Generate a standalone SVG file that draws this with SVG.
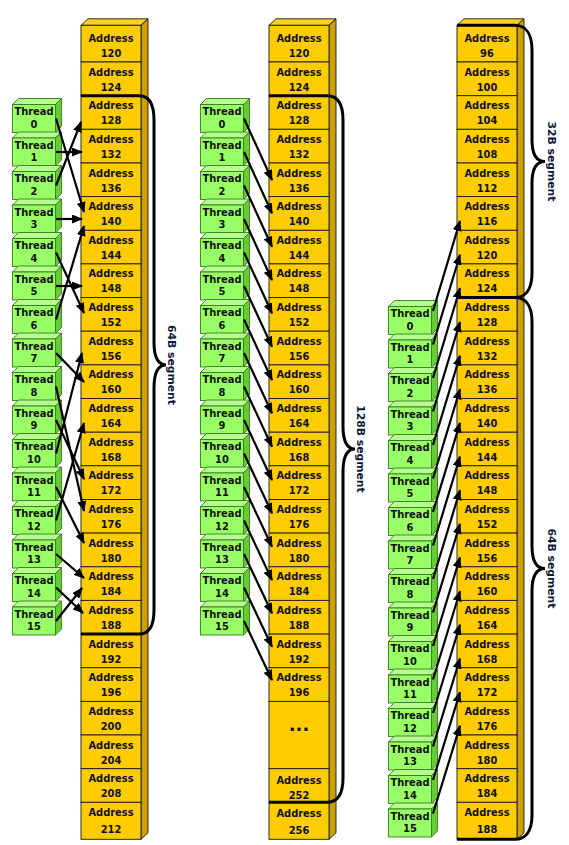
<svg xmlns="http://www.w3.org/2000/svg" xmlns:xlink="http://www.w3.org/1999/xlink" width="569" height="845" viewBox="0 0 569 845">
<style>
.cf{fill:#FFCC00;stroke:#1a1a1a;stroke-width:0.9}
.cs{fill:#CCA000;stroke:#1a1a1a;stroke-width:0.9}
.ct{fill:#FFD21F;stroke:#1a1a1a;stroke-width:0.9}
.tf{fill:#99FF66;stroke:#3A7A1E;stroke-width:0.9}
.ts{fill:#66CC33;stroke:#3A7A1E;stroke-width:0.9}
.tt{fill:#B5FF8F;stroke:#3A7A1E;stroke-width:0.9}
.a{font-family:'DejaVu Sans Condensed','DejaVu Sans','Liberation Sans',sans-serif;font-stretch:condensed;font-weight:bold;font-size:11px;text-anchor:middle;fill:#111}
.dots{font-family:'DejaVu Sans','Liberation Sans',sans-serif;font-weight:bold;font-size:18px;text-anchor:middle;fill:#111}
.seg{fill:none;stroke:#000;stroke-width:3}
.ar{fill:none;stroke:#000;stroke-width:2.2;marker-end:url(#ah)}
.lbl{font-family:'DejaVu Sans','Liberation Sans',sans-serif;font-weight:bold;font-size:10.8px;text-anchor:middle;fill:#101838}
</style>
<defs>
<marker id="ah" markerUnits="userSpaceOnUse" markerWidth="11" markerHeight="9" refX="10" refY="4.5" orient="auto"><path d="M0,0 L11,4.5 L0,9 z" fill="#000"/></marker>
<g id="tbox"><polygon class="tt" points="0,0 6,-6 49,-6 43,0"/><polygon class="ts" points="43,0 49,-6 49,22 43,28"/><rect class="tf" x="0" y="0" width="43" height="28"/></g>
</defs>
<rect width="569" height="845" fill="#fff"/>

<g id="column-faces">
<polygon class="ct" points="81,25.3 88,18.8 148,18.8 141,25.3"/><polygon class="cs" points="141,25.3 148,18.8 148,832.8 141,839.3"/>
<polygon class="ct" points="269,25.3 276,18.8 336,18.8 329,25.3"/><polygon class="cs" points="329,25.3 336,18.8 336,832.8 329,839.3"/>
<polygon class="ct" points="457,25.3 464,18.8 524,18.8 517,25.3"/><polygon class="cs" points="517,25.3 524,18.8 524,832.8 517,839.3"/>
</g>

<g id="left-column">
<g id="L120"><rect class="cf" x="81" y="25.3" width="60" height="36.7"/><text class="a" x="111" y="41.7">Address<tspan x="111" dy="15">120</tspan></text></g>
<g id="L124"><rect class="cf" x="81" y="62" width="60" height="33.7"/><text class="a" x="111" y="75.5">Address<tspan x="111" dy="15">124</tspan></text></g>
<g id="L128"><rect class="cf" x="81" y="95.7" width="60" height="33.6"/><text class="a" x="111" y="109.2">Address<tspan x="111" dy="15">128</tspan></text></g>
<g id="L132"><rect class="cf" x="81" y="129.3" width="60" height="33.7"/><text class="a" x="111" y="142.8">Address<tspan x="111" dy="15">132</tspan></text></g>
<g id="L136"><rect class="cf" x="81" y="163" width="60" height="33.6"/><text class="a" x="111" y="176.5">Address<tspan x="111" dy="15">136</tspan></text></g>
<g id="L140"><rect class="cf" x="81" y="196.6" width="60" height="33.7"/><text class="a" x="111" y="210.1">Address<tspan x="111" dy="15">140</tspan></text></g>
<g id="L144"><rect class="cf" x="81" y="230.3" width="60" height="33.6"/><text class="a" x="111" y="243.8">Address<tspan x="111" dy="15">144</tspan></text></g>
<g id="L148"><rect class="cf" x="81" y="263.9" width="60" height="33.7"/><text class="a" x="111" y="277.4">Address<tspan x="111" dy="15">148</tspan></text></g>
<g id="L152"><rect class="cf" x="81" y="297.6" width="60" height="33.6"/><text class="a" x="111" y="311.1">Address<tspan x="111" dy="15">152</tspan></text></g>
<g id="L156"><rect class="cf" x="81" y="331.2" width="60" height="33.7"/><text class="a" x="111" y="344.7">Address<tspan x="111" dy="15">156</tspan></text></g>
<g id="L160"><rect class="cf" x="81" y="364.9" width="60" height="33.6"/><text class="a" x="111" y="378.4">Address<tspan x="111" dy="15">160</tspan></text></g>
<g id="L164"><rect class="cf" x="81" y="398.5" width="60" height="33.7"/><text class="a" x="111" y="412">Address<tspan x="111" dy="15">164</tspan></text></g>
<g id="L168"><rect class="cf" x="81" y="432.2" width="60" height="33.6"/><text class="a" x="111" y="445.7">Address<tspan x="111" dy="15">168</tspan></text></g>
<g id="L172"><rect class="cf" x="81" y="465.8" width="60" height="33.7"/><text class="a" x="111" y="479.3">Address<tspan x="111" dy="15">172</tspan></text></g>
<g id="L176"><rect class="cf" x="81" y="499.5" width="60" height="33.6"/><text class="a" x="111" y="513">Address<tspan x="111" dy="15">176</tspan></text></g>
<g id="L180"><rect class="cf" x="81" y="533.1" width="60" height="33.7"/><text class="a" x="111" y="546.6">Address<tspan x="111" dy="15">180</tspan></text></g>
<g id="L184"><rect class="cf" x="81" y="566.8" width="60" height="33.6"/><text class="a" x="111" y="580.3">Address<tspan x="111" dy="15">184</tspan></text></g>
<g id="L188"><rect class="cf" x="81" y="600.4" width="60" height="33.7"/><text class="a" x="111" y="613.9">Address<tspan x="111" dy="15">188</tspan></text></g>
<g id="L192"><rect class="cf" x="81" y="634.1" width="60" height="33.6"/><text class="a" x="111" y="647.6">Address<tspan x="111" dy="15">192</tspan></text></g>
<g id="L196"><rect class="cf" x="81" y="667.7" width="60" height="33.7"/><text class="a" x="111" y="681.2">Address<tspan x="111" dy="15">196</tspan></text></g>
<g id="L200"><rect class="cf" x="81" y="701.4" width="60" height="33.6"/><text class="a" x="111" y="714.9">Address<tspan x="111" dy="15">200</tspan></text></g>
<g id="L204"><rect class="cf" x="81" y="735" width="60" height="33.7"/><text class="a" x="111" y="748.5">Address<tspan x="111" dy="15">204</tspan></text></g>
<g id="L208"><rect class="cf" x="81" y="768.7" width="60" height="33.6"/><text class="a" x="111" y="782.2">Address<tspan x="111" dy="15">208</tspan></text></g>
<g id="L212"><rect class="cf" x="81" y="802.3" width="60" height="37"/><text class="a" x="111" y="815.7">Address<tspan x="111" dy="17.6">212</tspan></text></g>
</g>

<g id="middle-column">
<g id="M120"><rect class="cf" x="269" y="25.3" width="60" height="36.7"/><text class="a" x="299" y="41.7">Address<tspan x="299" dy="15">120</tspan></text></g>
<g id="M124"><rect class="cf" x="269" y="62" width="60" height="33.7"/><text class="a" x="299" y="75.5">Address<tspan x="299" dy="15">124</tspan></text></g>
<g id="M128"><rect class="cf" x="269" y="95.7" width="60" height="33.6"/><text class="a" x="299" y="109.2">Address<tspan x="299" dy="15">128</tspan></text></g>
<g id="M132"><rect class="cf" x="269" y="129.3" width="60" height="33.7"/><text class="a" x="299" y="142.8">Address<tspan x="299" dy="15">132</tspan></text></g>
<g id="M136"><rect class="cf" x="269" y="163" width="60" height="33.6"/><text class="a" x="299" y="176.5">Address<tspan x="299" dy="15">136</tspan></text></g>
<g id="M140"><rect class="cf" x="269" y="196.6" width="60" height="33.7"/><text class="a" x="299" y="210.1">Address<tspan x="299" dy="15">140</tspan></text></g>
<g id="M144"><rect class="cf" x="269" y="230.3" width="60" height="33.6"/><text class="a" x="299" y="243.8">Address<tspan x="299" dy="15">144</tspan></text></g>
<g id="M148"><rect class="cf" x="269" y="263.9" width="60" height="33.7"/><text class="a" x="299" y="277.4">Address<tspan x="299" dy="15">148</tspan></text></g>
<g id="M152"><rect class="cf" x="269" y="297.6" width="60" height="33.6"/><text class="a" x="299" y="311.1">Address<tspan x="299" dy="15">152</tspan></text></g>
<g id="M156"><rect class="cf" x="269" y="331.2" width="60" height="33.7"/><text class="a" x="299" y="344.7">Address<tspan x="299" dy="15">156</tspan></text></g>
<g id="M160"><rect class="cf" x="269" y="364.9" width="60" height="33.6"/><text class="a" x="299" y="378.4">Address<tspan x="299" dy="15">160</tspan></text></g>
<g id="M164"><rect class="cf" x="269" y="398.5" width="60" height="33.7"/><text class="a" x="299" y="412">Address<tspan x="299" dy="15">164</tspan></text></g>
<g id="M168"><rect class="cf" x="269" y="432.2" width="60" height="33.6"/><text class="a" x="299" y="445.7">Address<tspan x="299" dy="15">168</tspan></text></g>
<g id="M172"><rect class="cf" x="269" y="465.8" width="60" height="33.7"/><text class="a" x="299" y="479.3">Address<tspan x="299" dy="15">172</tspan></text></g>
<g id="M176"><rect class="cf" x="269" y="499.5" width="60" height="33.6"/><text class="a" x="299" y="513">Address<tspan x="299" dy="15">176</tspan></text></g>
<g id="M180"><rect class="cf" x="269" y="533.1" width="60" height="33.7"/><text class="a" x="299" y="546.6">Address<tspan x="299" dy="15">180</tspan></text></g>
<g id="M184"><rect class="cf" x="269" y="566.8" width="60" height="33.6"/><text class="a" x="299" y="580.3">Address<tspan x="299" dy="15">184</tspan></text></g>
<g id="M188"><rect class="cf" x="269" y="600.4" width="60" height="33.7"/><text class="a" x="299" y="613.9">Address<tspan x="299" dy="15">188</tspan></text></g>
<g id="M192"><rect class="cf" x="269" y="634.1" width="60" height="33.6"/><text class="a" x="299" y="647.6">Address<tspan x="299" dy="15">192</tspan></text></g>
<g id="M196"><rect class="cf" x="269" y="667.7" width="60" height="33.7"/><text class="a" x="299" y="681.2">Address<tspan x="299" dy="15">196</tspan></text></g>
<g id="Mdots"><rect class="cf" x="269" y="701.4" width="60" height="67.3"/><text class="dots" x="299" y="730.5">...</text></g>
<g id="M252"><rect class="cf" x="269" y="768.7" width="60" height="33.6"/><text class="a" x="299" y="783.5">Address<tspan x="299" dy="15.5">252</tspan></text></g>
<g id="M256"><rect class="cf" x="269" y="802.3" width="60" height="37"/><text class="a" x="299" y="816.5">Address<tspan x="299" dy="17.5">256</tspan></text></g>
</g>

<g id="right-column">
<g id="R96"><rect class="cf" x="457" y="25.3" width="60" height="36.7"/><text class="a" x="487" y="41.7">Address<tspan x="487" dy="15">96</tspan></text></g>
<g id="R100"><rect class="cf" x="457" y="62" width="60" height="33.7"/><text class="a" x="487" y="75.5">Address<tspan x="487" dy="15">100</tspan></text></g>
<g id="R104"><rect class="cf" x="457" y="95.7" width="60" height="33.6"/><text class="a" x="487" y="109.2">Address<tspan x="487" dy="15">104</tspan></text></g>
<g id="R108"><rect class="cf" x="457" y="129.3" width="60" height="33.7"/><text class="a" x="487" y="142.8">Address<tspan x="487" dy="15">108</tspan></text></g>
<g id="R112"><rect class="cf" x="457" y="163" width="60" height="33.6"/><text class="a" x="487" y="176.5">Address<tspan x="487" dy="15">112</tspan></text></g>
<g id="R116"><rect class="cf" x="457" y="196.6" width="60" height="33.7"/><text class="a" x="487" y="210.1">Address<tspan x="487" dy="15">116</tspan></text></g>
<g id="R120"><rect class="cf" x="457" y="230.3" width="60" height="33.6"/><text class="a" x="487" y="243.8">Address<tspan x="487" dy="15">120</tspan></text></g>
<g id="R124"><rect class="cf" x="457" y="263.9" width="60" height="33.7"/><text class="a" x="487" y="277.4">Address<tspan x="487" dy="15">124</tspan></text></g>
<g id="R128"><rect class="cf" x="457" y="297.6" width="60" height="33.6"/><text class="a" x="487" y="311.1">Address<tspan x="487" dy="15">128</tspan></text></g>
<g id="R132"><rect class="cf" x="457" y="331.2" width="60" height="33.7"/><text class="a" x="487" y="344.7">Address<tspan x="487" dy="15">132</tspan></text></g>
<g id="R136"><rect class="cf" x="457" y="364.9" width="60" height="33.6"/><text class="a" x="487" y="378.4">Address<tspan x="487" dy="15">136</tspan></text></g>
<g id="R140"><rect class="cf" x="457" y="398.5" width="60" height="33.7"/><text class="a" x="487" y="412">Address<tspan x="487" dy="15">140</tspan></text></g>
<g id="R144"><rect class="cf" x="457" y="432.2" width="60" height="33.6"/><text class="a" x="487" y="445.7">Address<tspan x="487" dy="15">144</tspan></text></g>
<g id="R148"><rect class="cf" x="457" y="465.8" width="60" height="33.7"/><text class="a" x="487" y="479.3">Address<tspan x="487" dy="15">148</tspan></text></g>
<g id="R152"><rect class="cf" x="457" y="499.5" width="60" height="33.6"/><text class="a" x="487" y="513">Address<tspan x="487" dy="15">152</tspan></text></g>
<g id="R156"><rect class="cf" x="457" y="533.1" width="60" height="33.7"/><text class="a" x="487" y="546.6">Address<tspan x="487" dy="15">156</tspan></text></g>
<g id="R160"><rect class="cf" x="457" y="566.8" width="60" height="33.6"/><text class="a" x="487" y="580.3">Address<tspan x="487" dy="15">160</tspan></text></g>
<g id="R164"><rect class="cf" x="457" y="600.4" width="60" height="33.7"/><text class="a" x="487" y="613.9">Address<tspan x="487" dy="15">164</tspan></text></g>
<g id="R168"><rect class="cf" x="457" y="634.1" width="60" height="33.6"/><text class="a" x="487" y="647.6">Address<tspan x="487" dy="15">168</tspan></text></g>
<g id="R172"><rect class="cf" x="457" y="667.7" width="60" height="33.7"/><text class="a" x="487" y="681.2">Address<tspan x="487" dy="15">172</tspan></text></g>
<g id="R176"><rect class="cf" x="457" y="701.4" width="60" height="33.6"/><text class="a" x="487" y="714.9">Address<tspan x="487" dy="15">176</tspan></text></g>
<g id="R180"><rect class="cf" x="457" y="735" width="60" height="33.7"/><text class="a" x="487" y="748.5">Address<tspan x="487" dy="15">180</tspan></text></g>
<g id="R184"><rect class="cf" x="457" y="768.7" width="60" height="33.6"/><text class="a" x="487" y="782.2">Address<tspan x="487" dy="15">184</tspan></text></g>
<g id="R188"><rect class="cf" x="457" y="802.3" width="60" height="37"/><text class="a" x="487" y="815.7">Address<tspan x="487" dy="17.6">188</tspan></text></g>
</g>

<g id="left-threads">
<g id="LT0" transform="translate(12.5,104.5)"><use xlink:href="#tbox" href="#tbox"/><text class="a" x="21.5" y="10.5">Thread<tspan x="21.5" dy="12.5">0</tspan></text></g>
<g id="LT1" transform="translate(12.5,138)"><use xlink:href="#tbox" href="#tbox"/><text class="a" x="21.5" y="10.5">Thread<tspan x="21.5" dy="12.5">1</tspan></text></g>
<g id="LT2" transform="translate(12.5,171.5)"><use xlink:href="#tbox" href="#tbox"/><text class="a" x="21.5" y="10.5">Thread<tspan x="21.5" dy="12.5">2</tspan></text></g>
<g id="LT3" transform="translate(12.5,205)"><use xlink:href="#tbox" href="#tbox"/><text class="a" x="21.5" y="10.5">Thread<tspan x="21.5" dy="12.5">3</tspan></text></g>
<g id="LT4" transform="translate(12.5,238.5)"><use xlink:href="#tbox" href="#tbox"/><text class="a" x="21.5" y="10.5">Thread<tspan x="21.5" dy="12.5">4</tspan></text></g>
<g id="LT5" transform="translate(12.5,272)"><use xlink:href="#tbox" href="#tbox"/><text class="a" x="21.5" y="10.5">Thread<tspan x="21.5" dy="12.5">5</tspan></text></g>
<g id="LT6" transform="translate(12.5,305.5)"><use xlink:href="#tbox" href="#tbox"/><text class="a" x="21.5" y="10.5">Thread<tspan x="21.5" dy="12.5">6</tspan></text></g>
<g id="LT7" transform="translate(12.5,339)"><use xlink:href="#tbox" href="#tbox"/><text class="a" x="21.5" y="10.5">Thread<tspan x="21.5" dy="12.5">7</tspan></text></g>
<g id="LT8" transform="translate(12.5,372.5)"><use xlink:href="#tbox" href="#tbox"/><text class="a" x="21.5" y="10.5">Thread<tspan x="21.5" dy="12.5">8</tspan></text></g>
<g id="LT9" transform="translate(12.5,406)"><use xlink:href="#tbox" href="#tbox"/><text class="a" x="21.5" y="10.5">Thread<tspan x="21.5" dy="12.5">9</tspan></text></g>
<g id="LT10" transform="translate(12.5,439.5)"><use xlink:href="#tbox" href="#tbox"/><text class="a" x="21.5" y="10.5">Thread<tspan x="21.5" dy="12.5">10</tspan></text></g>
<g id="LT11" transform="translate(12.5,473)"><use xlink:href="#tbox" href="#tbox"/><text class="a" x="21.5" y="10.5">Thread<tspan x="21.5" dy="12.5">11</tspan></text></g>
<g id="LT12" transform="translate(12.5,506.5)"><use xlink:href="#tbox" href="#tbox"/><text class="a" x="21.5" y="10.5">Thread<tspan x="21.5" dy="12.5">12</tspan></text></g>
<g id="LT13" transform="translate(12.5,540)"><use xlink:href="#tbox" href="#tbox"/><text class="a" x="21.5" y="10.5">Thread<tspan x="21.5" dy="12.5">13</tspan></text></g>
<g id="LT14" transform="translate(12.5,573.5)"><use xlink:href="#tbox" href="#tbox"/><text class="a" x="21.5" y="10.5">Thread<tspan x="21.5" dy="12.5">14</tspan></text></g>
<g id="LT15" transform="translate(12.5,607)"><use xlink:href="#tbox" href="#tbox"/><text class="a" x="21.5" y="10.5">Thread<tspan x="21.5" dy="12.5">15</tspan></text></g>
</g>

<g id="middle-threads">
<g id="MT0" transform="translate(200.5,104.5)"><use xlink:href="#tbox" href="#tbox"/><text class="a" x="21.5" y="10.5">Thread<tspan x="21.5" dy="12.5">0</tspan></text></g>
<g id="MT1" transform="translate(200.5,138)"><use xlink:href="#tbox" href="#tbox"/><text class="a" x="21.5" y="10.5">Thread<tspan x="21.5" dy="12.5">1</tspan></text></g>
<g id="MT2" transform="translate(200.5,171.5)"><use xlink:href="#tbox" href="#tbox"/><text class="a" x="21.5" y="10.5">Thread<tspan x="21.5" dy="12.5">2</tspan></text></g>
<g id="MT3" transform="translate(200.5,205)"><use xlink:href="#tbox" href="#tbox"/><text class="a" x="21.5" y="10.5">Thread<tspan x="21.5" dy="12.5">3</tspan></text></g>
<g id="MT4" transform="translate(200.5,238.5)"><use xlink:href="#tbox" href="#tbox"/><text class="a" x="21.5" y="10.5">Thread<tspan x="21.5" dy="12.5">4</tspan></text></g>
<g id="MT5" transform="translate(200.5,272)"><use xlink:href="#tbox" href="#tbox"/><text class="a" x="21.5" y="10.5">Thread<tspan x="21.5" dy="12.5">5</tspan></text></g>
<g id="MT6" transform="translate(200.5,305.5)"><use xlink:href="#tbox" href="#tbox"/><text class="a" x="21.5" y="10.5">Thread<tspan x="21.5" dy="12.5">6</tspan></text></g>
<g id="MT7" transform="translate(200.5,339)"><use xlink:href="#tbox" href="#tbox"/><text class="a" x="21.5" y="10.5">Thread<tspan x="21.5" dy="12.5">7</tspan></text></g>
<g id="MT8" transform="translate(200.5,372.5)"><use xlink:href="#tbox" href="#tbox"/><text class="a" x="21.5" y="10.5">Thread<tspan x="21.5" dy="12.5">8</tspan></text></g>
<g id="MT9" transform="translate(200.5,406)"><use xlink:href="#tbox" href="#tbox"/><text class="a" x="21.5" y="10.5">Thread<tspan x="21.5" dy="12.5">9</tspan></text></g>
<g id="MT10" transform="translate(200.5,439.5)"><use xlink:href="#tbox" href="#tbox"/><text class="a" x="21.5" y="10.5">Thread<tspan x="21.5" dy="12.5">10</tspan></text></g>
<g id="MT11" transform="translate(200.5,473)"><use xlink:href="#tbox" href="#tbox"/><text class="a" x="21.5" y="10.5">Thread<tspan x="21.5" dy="12.5">11</tspan></text></g>
<g id="MT12" transform="translate(200.5,506.5)"><use xlink:href="#tbox" href="#tbox"/><text class="a" x="21.5" y="10.5">Thread<tspan x="21.5" dy="12.5">12</tspan></text></g>
<g id="MT13" transform="translate(200.5,540)"><use xlink:href="#tbox" href="#tbox"/><text class="a" x="21.5" y="10.5">Thread<tspan x="21.5" dy="12.5">13</tspan></text></g>
<g id="MT14" transform="translate(200.5,573.5)"><use xlink:href="#tbox" href="#tbox"/><text class="a" x="21.5" y="10.5">Thread<tspan x="21.5" dy="12.5">14</tspan></text></g>
<g id="MT15" transform="translate(200.5,607)"><use xlink:href="#tbox" href="#tbox"/><text class="a" x="21.5" y="10.5">Thread<tspan x="21.5" dy="12.5">15</tspan></text></g>
</g>

<g id="right-threads">
<g id="RT0" transform="translate(388.5,306.5)"><use xlink:href="#tbox" href="#tbox"/><text class="a" x="21.5" y="10.5">Thread<tspan x="21.5" dy="12.5">0</tspan></text></g>
<g id="RT1" transform="translate(388.5,340)"><use xlink:href="#tbox" href="#tbox"/><text class="a" x="21.5" y="10.5">Thread<tspan x="21.5" dy="12.5">1</tspan></text></g>
<g id="RT2" transform="translate(388.5,373.5)"><use xlink:href="#tbox" href="#tbox"/><text class="a" x="21.5" y="10.5">Thread<tspan x="21.5" dy="12.5">2</tspan></text></g>
<g id="RT3" transform="translate(388.5,407)"><use xlink:href="#tbox" href="#tbox"/><text class="a" x="21.5" y="10.5">Thread<tspan x="21.5" dy="12.5">3</tspan></text></g>
<g id="RT4" transform="translate(388.5,440.5)"><use xlink:href="#tbox" href="#tbox"/><text class="a" x="21.5" y="10.5">Thread<tspan x="21.5" dy="12.5">4</tspan></text></g>
<g id="RT5" transform="translate(388.5,474)"><use xlink:href="#tbox" href="#tbox"/><text class="a" x="21.5" y="10.5">Thread<tspan x="21.5" dy="12.5">5</tspan></text></g>
<g id="RT6" transform="translate(388.5,507.5)"><use xlink:href="#tbox" href="#tbox"/><text class="a" x="21.5" y="10.5">Thread<tspan x="21.5" dy="12.5">6</tspan></text></g>
<g id="RT7" transform="translate(388.5,541)"><use xlink:href="#tbox" href="#tbox"/><text class="a" x="21.5" y="10.5">Thread<tspan x="21.5" dy="12.5">7</tspan></text></g>
<g id="RT8" transform="translate(388.5,574.5)"><use xlink:href="#tbox" href="#tbox"/><text class="a" x="21.5" y="10.5">Thread<tspan x="21.5" dy="12.5">8</tspan></text></g>
<g id="RT9" transform="translate(388.5,608)"><use xlink:href="#tbox" href="#tbox"/><text class="a" x="21.5" y="10.5">Thread<tspan x="21.5" dy="12.5">9</tspan></text></g>
<g id="RT10" transform="translate(388.5,641.5)"><use xlink:href="#tbox" href="#tbox"/><text class="a" x="21.5" y="10.5">Thread<tspan x="21.5" dy="12.5">10</tspan></text></g>
<g id="RT11" transform="translate(388.5,675)"><use xlink:href="#tbox" href="#tbox"/><text class="a" x="21.5" y="10.5">Thread<tspan x="21.5" dy="12.5">11</tspan></text></g>
<g id="RT12" transform="translate(388.5,708.5)"><use xlink:href="#tbox" href="#tbox"/><text class="a" x="21.5" y="10.5">Thread<tspan x="21.5" dy="12.5">12</tspan></text></g>
<g id="RT13" transform="translate(388.5,742)"><use xlink:href="#tbox" href="#tbox"/><text class="a" x="21.5" y="10.5">Thread<tspan x="21.5" dy="12.5">13</tspan></text></g>
<g id="RT14" transform="translate(388.5,775.5)"><use xlink:href="#tbox" href="#tbox"/><text class="a" x="21.5" y="10.5">Thread<tspan x="21.5" dy="12.5">14</tspan></text></g>
<g id="RT15" transform="translate(388.5,809)"><use xlink:href="#tbox" href="#tbox"/><text class="a" x="21.5" y="10.5">Thread<tspan x="21.5" dy="12.5">15</tspan></text></g>
</g>

<g id="connectors">
<line class="ar" x1="56" y1="118.5" x2="84" y2="212"/>
<line class="ar" x1="56" y1="152" x2="82" y2="152"/>
<line class="ar" x1="56" y1="185.5" x2="81" y2="122"/>
<line class="ar" x1="56" y1="219" x2="82" y2="219"/>
<line class="ar" x1="56" y1="252.5" x2="84" y2="313"/>
<line class="ar" x1="56" y1="286" x2="82" y2="286"/>
<line class="ar" x1="56" y1="319.5" x2="84" y2="226"/>
<line class="ar" x1="56" y1="353" x2="84" y2="382"/>
<line class="ar" x1="56" y1="386.5" x2="84" y2="511"/>
<line class="ar" x1="56" y1="420" x2="84" y2="479"/>
<line class="ar" x1="56" y1="453.5" x2="82" y2="353"/>
<line class="ar" x1="56" y1="487" x2="84" y2="543"/>
<line class="ar" x1="56" y1="520.5" x2="84" y2="423"/>
<line class="ar" x1="56" y1="554" x2="84" y2="578"/>
<line class="ar" x1="56" y1="587.5" x2="83" y2="613"/>
<line class="ar" x1="56" y1="621" x2="82" y2="588"/>

<line class="ar" x1="244" y1="118.5" x2="272" y2="180"/>
<line class="ar" x1="244" y1="152" x2="272" y2="213.3"/>
<line class="ar" x1="244" y1="185.5" x2="272" y2="246.7"/>
<line class="ar" x1="244" y1="219" x2="272" y2="280"/>
<line class="ar" x1="244" y1="252.5" x2="272" y2="313.3"/>
<line class="ar" x1="244" y1="286" x2="272" y2="346.7"/>
<line class="ar" x1="244" y1="319.5" x2="272" y2="380"/>
<line class="ar" x1="244" y1="353" x2="272" y2="413.3"/>
<line class="ar" x1="244" y1="386.5" x2="272" y2="446.7"/>
<line class="ar" x1="244" y1="420" x2="272" y2="480"/>
<line class="ar" x1="244" y1="453.5" x2="272" y2="513.3"/>
<line class="ar" x1="244" y1="487" x2="272" y2="546.7"/>
<line class="ar" x1="244" y1="520.5" x2="272" y2="580"/>
<line class="ar" x1="244" y1="554" x2="272" y2="613.3"/>
<line class="ar" x1="244" y1="587.5" x2="272" y2="646.7"/>
<line class="ar" x1="244" y1="621" x2="272" y2="680"/>

<line class="ar" x1="433" y1="311" x2="460" y2="221"/>
<line class="ar" x1="433" y1="344.5" x2="460" y2="254.7"/>
<line class="ar" x1="433" y1="378" x2="460" y2="288.3"/>
<line class="ar" x1="433" y1="411.5" x2="460" y2="322"/>
<line class="ar" x1="433" y1="445" x2="460" y2="355.6"/>
<line class="ar" x1="433" y1="478.5" x2="460" y2="389.3"/>
<line class="ar" x1="433" y1="512" x2="460" y2="422.9"/>
<line class="ar" x1="433" y1="545.5" x2="460" y2="456.6"/>
<line class="ar" x1="433" y1="579" x2="460" y2="490.2"/>
<line class="ar" x1="433" y1="612.5" x2="460" y2="523.9"/>
<line class="ar" x1="433" y1="646" x2="460" y2="557.5"/>
<line class="ar" x1="433" y1="679.5" x2="460" y2="591.2"/>
<line class="ar" x1="433" y1="713" x2="460" y2="624.8"/>
<line class="ar" x1="433" y1="746.5" x2="460" y2="658.5"/>
<line class="ar" x1="433" y1="780" x2="460" y2="692.1"/>
<line class="ar" x1="433" y1="813.5" x2="460" y2="725.8"/>
</g>

<g id="segments">
<path class="seg" d="M81,95.7 H139 C148,95.7 154,103 154,120 V342 C154,356 157,364.9 166,364.9 C157,364.9 154,374 154,388 V610 C154,627 148,634.1 139,634.1 H81"/>
<text class="lbl" transform="translate(168,364.9) rotate(90)">64B segment</text>
<path class="seg" d="M269,95.7 H327 C337,95.7 343,103 343,120 V426 C343,440 346,449 355,449 C346,449 343,458 343,472 V778 C343,795 337,802.3 327,802.3 H269"/>
<text class="lbl" transform="translate(357,449) rotate(90)">128B segment</text>
<path class="seg" d="M457,25.3 H515 C525,25.3 532,33 532,50 V140 C532,154 536,161.5 545,161.5 C536,161.5 532,169 532,183 V273 C532,290 525,297.6 515,297.6 H457"/>
<text class="lbl" transform="translate(548,161.5) rotate(90)">32B segment</text>
<path class="seg" d="M515,297.6 C525,297.6 532,305 532,322 V546 C532,560 536,568.5 545,568.5 C536,568.5 532,577 532,591 V815 C532,832 525,839.3 515,839.3 H457"/>
<text class="lbl" transform="translate(548,568.5) rotate(90)">64B segment</text>
</g>
</svg>
